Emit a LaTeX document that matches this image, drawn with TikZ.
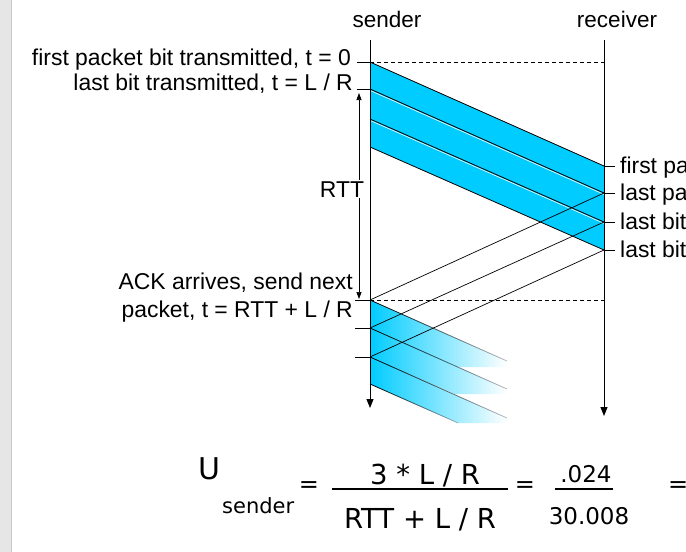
\documentclass[tikz,border=0pt]{standalone}
\usepackage{fontspec}
\setmainfont{Liberation Sans}
\newfontfamily\formfont{DejaVu Sans}
\usetikzlibrary{arrows.meta,fadings,calc}
\definecolor{pkt}{RGB}{0,204,255}
\definecolor{strip}{RGB}{230,230,230}
\definecolor{stripedge}{RGB}{200,200,200}
\tikzfading[name=fadeR, left color=transparent!0, right color=transparent!75]
\begin{document}
\begin{tikzpicture}[x=1pt,y=-1pt,
  lbl/.style={font=\fontsize{22.9}{28}\selectfont, inner sep=0pt},
  frm/.style={font=\formfont\fontsize{27.5}{32}\selectfont, inner sep=0pt},
  frmnum/.style={font=\formfont\fontsize{23}{27}\selectfont, inner sep=0pt},
  axisline/.style={line width=0.9pt, -{Triangle[length=9pt,width=7pt]}},
  edgeline/.style={line width=0.8pt},
  thinline/.style={line width=0.7pt},
  dashline/.style={line width=0.7pt, dash pattern=on 4pt off 3pt},
  hilite/.style={white, line width=0.6pt},
  rttarrow/.style={line width=0.7pt, {Triangle[length=7pt,width=5pt]}-{Triangle[length=7pt,width=5pt]}},
  fracbar/.style={line width=2.6pt}]
\useasboundingbox (0,0) rectangle (686,552);
\fill[white] (0,0) rectangle (686,552);
\fill[strip] (0,0) rectangle (11,552);
\draw[stripedge, line width=0.8pt] (11,0) -- (11,552);

% time lines
\coordinate (sTop) at (370,40); \coordinate (sBot) at (370,408);
\coordinate (rTop) at (604,40); \coordinate (rBot) at (604,416);
% first packets
\coordinate (s0) at (370,62);  \coordinate (s1) at (370,89);
\coordinate (s2) at (370,119); \coordinate (s3) at (370,147);
\coordinate (r0) at (604,166); \coordinate (r1) at (604,193);
\coordinate (r2) at (604,222); \coordinate (r3) at (604,250);
% next packets
\coordinate (a1) at (370,300); \coordinate (a2) at (370,328);
\coordinate (a3) at (370,357); \coordinate (a4) at (370,384);
\coordinate (f1) at (507,361); \coordinate (f2) at (507,389);
\coordinate (f3) at (507,418); \coordinate (f4) at (458,423);
\coordinate (c1) at (507,367); \coordinate (b1) at (456,367);
\coordinate (c2) at (507,394); \coordinate (b2) at (455,394);
\coordinate (c3) at (507,423);

% first window of packets
\fill[pkt] (s0) -- (r0) -- (r3) -- (s3) -- cycle;
\draw[hilite] ($(s1)+(0,1.4)$) -- ($(r1)+(0,1.4)$);
\draw[hilite] ($(s2)+(0,1.4)$) -- ($(r2)+(0,1.4)$);
\draw[edgeline] (s0) -- (r0);
\draw[edgeline] (s1) -- (r1);
\draw[edgeline] (s2) -- (r2);
\draw[edgeline] (s3) -- (r3);

% next window (fading)
\shade[left color=pkt, right color=white] (a1) -- (f1) -- (c1) -- (b1) -- (a2) -- cycle;
\shade[left color=pkt, right color=white] (a2) -- (f2) -- (c2) -- (b2) -- (a3) -- cycle;
\shade[left color=pkt, right color=white] (a3) -- (f3) -- (c3) -- (f4) -- (a4) -- cycle;
\draw[edgeline, path fading=fadeR] (a1) -- (f1);
\draw[edgeline, path fading=fadeR] (a2) -- (f2);
\draw[edgeline, path fading=fadeR] (a3) -- (f3);
\draw[edgeline, path fading=fadeR] (a4) -- (f4);

% ACKs
\draw[thinline] (r1) -- (a1);
\draw[thinline] (r2) -- (a2);
\draw[thinline] (r3) -- (a3);

% dashed
\draw[dashline] (s0) -- (s0 -| rTop);
\draw[dashline] (a1) -- (a1 -| rTop);

% axes
\draw[axisline] (sTop) -- (sBot);
\draw[axisline] (rTop) -- (rBot);
\node[lbl, font=\fontsize{22.5}{27}\selectfont, anchor=base] (sendlbl) at (387,27) {sender};
\node[lbl, font=\fontsize{22.5}{27}\selectfont, anchor=base] (recvlbl) at (617,27) {receiver};

% sender ticks and labels
\draw[thinline] ($(s0)+(-13,0)$) -- (s0);
\draw[thinline] ($(s1)+(-13,0)$) -- (s1);
\draw[thinline] ($(a1)+(-15,0)$) -- (a1);
\draw[thinline] ($(a2)+(-15,0)$) -- (a2);
\draw[thinline] ($(a3)+(-15,0)$) -- (a3);
\node[lbl, anchor=base east] (t0lbl) at (351,65) {first packet bit transmitted, t = 0};
\node[lbl, anchor=base east] (t1lbl) at (353,90) {last bit transmitted, t = L / R};
\node[lbl, anchor=base east] (acklbl) at (353,289) {ACK arrives, send next};
\node[lbl, anchor=base east] (acklblb) at (353,317) {packet, t = RTT + L / R};

% RTT
\coordinate (rttA) at (359,93); \coordinate (rttB) at (359,299);
\draw[rttarrow] (rttA) -- (rttB);
\node[lbl, anchor=base, fill=white, inner sep=1pt] (rtt) at (342,197) {RTT};

% receiver ticks and labels
\draw[thinline] (r0) -- ($(r0)+(11,0)$);
\draw[thinline] (r1) -- ($(r1)+(11,0)$);
\draw[thinline] (r2) -- ($(r2)+(11,0)$);
\draw[thinline] (r3) -- ($(r3)+(11,0)$);
\node[lbl, anchor=base west] (rl0) at (620,173) {first pa};
\node[lbl, anchor=base west] (rl1) at (620,200) {last pa};
\node[lbl, anchor=base west] (rl2) at (620,229) {last bit};
\node[lbl, anchor=base west] (rl3) at (620,257) {last bit};

% formula
\node[frm, font=\formfont\fontsize{30}{34}\selectfont, anchor=base] (U) at (209,479) {U};
\node[frm, font=\formfont\fontsize{21}{25}\selectfont, anchor=base west] (Usub) at (222,513) {sender};
\node[frm, font=\formfont\fontsize{24}{28}\selectfont] (eq1) at (309,487) {=};
\node[frm, anchor=base] (num1) at (425,484) {3 * L / R};
\draw[fracbar] (332,489) -- (508,489);
\node[frm, anchor=base] (den1) at (420,528) {RTT + L / R};
\node[frm, font=\formfont\fontsize{24}{28}\selectfont] (eq2) at (525,487) {=};
\node[frmnum, anchor=base] (num2) at (586,482) {.024};
\draw[fracbar] (555,489) -- (613,489);
\node[frmnum, anchor=base] (den2) at (589,524) {30.008};
\node[frm, font=\formfont\fontsize{24}{28}\selectfont, anchor=west] (eq3) at (668,487) {=};
\end{tikzpicture}
\end{document}
